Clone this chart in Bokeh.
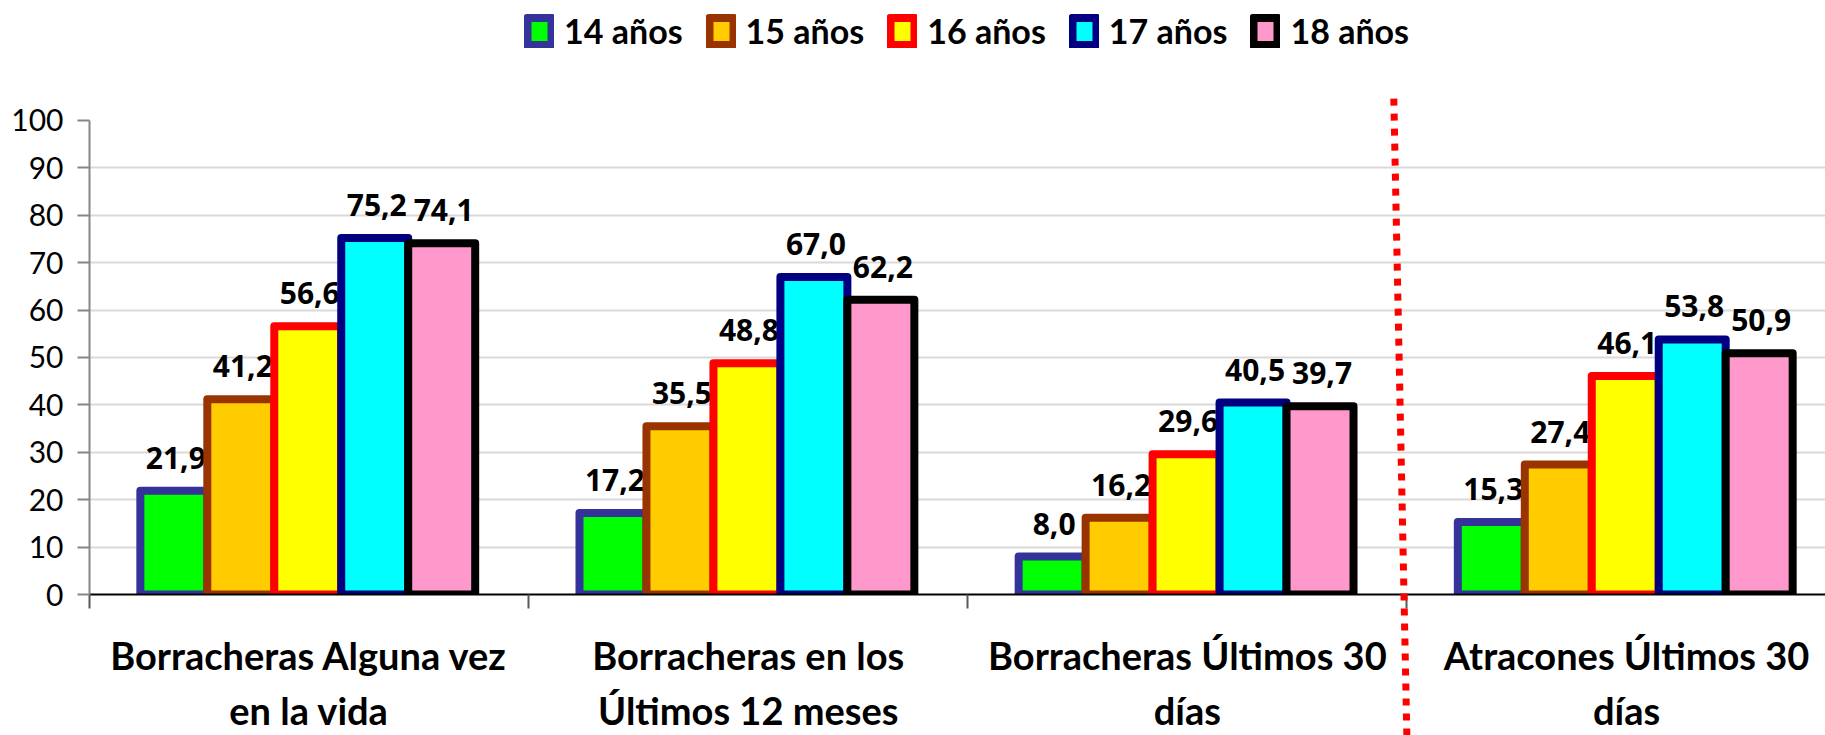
from bokeh.plotting import figure
from bokeh.models import (Range1d, LinearAxis, FixedTicker, Legend, LegendItem,
                          ColumnDataSource)
from bokeh.core.properties import value
from bokeh.embed import file_html
from bokeh.resources import INLINE

# ---------------- data ----------------
categories = [
    "Borracheras Alguna vez\nen la vida",
    "Borracheras en los\nÚltimos 12 meses",
    "Borracheras Últimos 30\ndías",
    "Atracones Últimos 30\ndías",
]
series = ["14 años", "15 años", "16 años", "17 años", "18 años"]
v14 = [21.9, 17.2, 8.0, 15.3]
v15 = [41.2, 35.5, 16.2, 27.4]
v16 = [56.6, 48.8, 29.6, 46.1]
v17 = [75.2, 67.0, 40.5, 53.8]
v18 = [74.1, 62.2, 39.7, 50.9]
y_ticks = [0, 10, 20, 30, 40, 50, 60, 70, 80, 90, 100]
separator_after = 3  # dotted line between 3rd and 4th category

# ---------------- styles ----------------
fills = ["#00FF00", "#FFCC00", "#FFFF00", "#00FFFF", "#FF99CC"]
borders = ["#333399", "#993300", "#FF0000", "#000080", "#000000"]
bar_w = 0.1525
group_center = 0.497

values = [v14, v15, v16, v17, v18]
n_cat = len(categories)

# frame spans whole top area (room for legend); axis line limited to 0..100
p = figure(width=1825, height=735,
           x_range=Range1d(0, 3.953), y_range=Range1d(0, 125.3),
           x_axis_type=None, output_backend="svg", toolbar_location=None,
           min_border_left=89, min_border_right=0, min_border_top=0,
           min_border_bottom=141, outline_line_color=None,
           background_fill_color="white", border_fill_color="white")

# y axis
p.yaxis.ticker = FixedTicker(ticks=y_ticks)
p.yaxis.bounds = (y_ticks[0], y_ticks[-1])
p.yaxis.axis_line_color = "#868686"
p.yaxis.axis_line_width = 2
p.yaxis.major_tick_line_color = "#868686"
p.yaxis.major_tick_line_width = 2
p.yaxis.major_tick_out = 12
p.yaxis.major_tick_in = 0
p.yaxis.minor_tick_line_color = None
p.yaxis.major_label_standoff = 14
p.yaxis.major_label_text_font = "Lato"
p.yaxis.major_label_text_font_size = "30px"
p.yaxis.major_label_text_color = "black"
p.ygrid.ticker = FixedTicker(ticks=y_ticks[1:-1])
p.ygrid.grid_line_color = "#D9D9D9"
p.ygrid.grid_line_width = 2

# x axis: category boundary ticks (no labels)
bounds = list(range(n_cat + 1))
ax1 = LinearAxis(ticker=FixedTicker(ticks=bounds),
                 major_label_overrides={b: "" for b in bounds},
                 axis_line_color="black", axis_line_width=2,
                 major_tick_line_color="#595959", major_tick_line_width=2,
                 major_tick_out=14, major_tick_in=0,
                 minor_tick_line_color=None,
                 major_label_text_font_size="1px", major_label_standoff=0)
p.add_layout(ax1, "below")

# x axis: category labels
centers = [i + 0.5 for i in range(n_cat)]
ax2 = LinearAxis(ticker=FixedTicker(ticks=centers),
                 major_label_overrides={c: lab for c, lab in zip(centers, categories)},
                 axis_line_color=None, major_tick_line_color=None,
                 minor_tick_line_color=None, major_tick_out=0, major_tick_in=0,
                 major_label_standoff=23,
                 major_label_text_font="Lato", major_label_text_font_style="bold",
                 major_label_text_font_size="38px",
                 major_label_text_line_height=1.2,
                 major_label_text_color="black")
p.add_layout(ax2, "below")

items = []
for j, (name, vals) in enumerate(zip(series, values)):
    xs = [i + group_center + (j - 2) * bar_w for i in range(n_cat)]
    src = ColumnDataSource(dict(x=xs, top=vals,
                                lab=[f"{v:.1f}".replace(".", ",") for v in vals]))
    r = p.vbar(x="x", top="top", bottom=0, width=bar_w, source=src,
               fill_color=fills[j], line_color=borders[j], line_width=8,
               line_join="round")
    p.text(x="x", y="top", text="lab", source=src,
           text_font=value("Open Sans"), text_font_style="bold",
           text_font_size="30px", text_align="center",
           text_baseline="alphabetic", y_offset=-33, x_offset=2,
           text_color="black")
    items.append(LegendItem(label=name, renderers=[r]))

# red dotted separator
sep = p.segment(x0=[separator_after - 0.03], y0=[104.6],
                x1=[separator_after], y1=[-31],
                line_color="#FF0000", line_width=7, line_dash="7 8")
sep.level = "overlay"

legend = Legend(items=items, orientation="horizontal", location=(435, 543),
                glyph_width=30, glyph_height=34, label_standoff=10, spacing=23,
                padding=0, margin=0, border_line_color=None,
                background_fill_alpha=0,
                label_text_font="Lato", label_text_font_style="bold",
                label_text_font_size="34px", label_text_color="black")
p.add_layout(legend)

open("out.html", "w").write(file_html(p, INLINE))
